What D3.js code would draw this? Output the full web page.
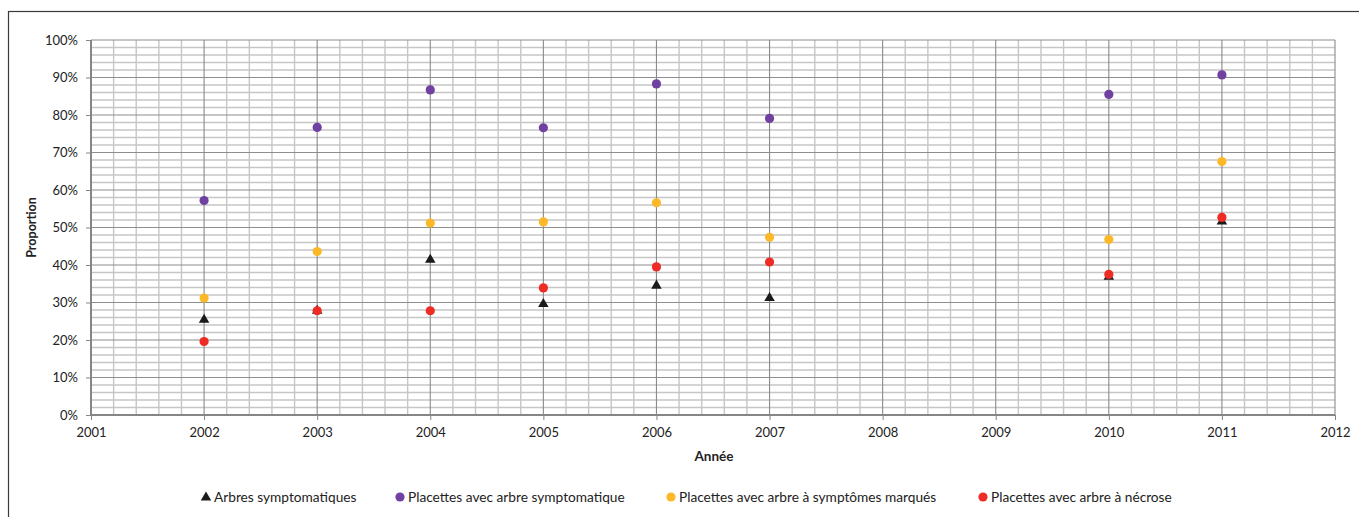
<!DOCTYPE html>
<html>
<head>
<meta charset="utf-8">
<script src="https://cdn.jsdelivr.net/npm/d3@7"></script>
<style>
  html, body { margin: 0; padding: 0; background: #fff; }
  svg { display: block; font-family: Lato, "Open Sans", sans-serif; }
</style>
</head>
<body>
<svg id="chart" width="1359" height="517"></svg>
<script>
// Years surveyed
const years = [2002, 2003, 2004, 2005, 2006, 2007, 2010, 2011];

// Proportions (%) per series
const arbresSymptomatiques = [25.6, 28.0, 41.6, 29.8, 34.7, 31.4, 37.1, 51.8];
const placettesSymptomatique = [57.2, 76.7, 86.7, 76.6, 88.3, 79.1, 85.5, 90.7];
const placettesSymptomesMarques = [31.2, 43.6, 51.2, 51.5, 56.6, 47.4, 46.8, 67.6];
const placettesNecrose = [19.6, 27.8, 27.8, 33.9, 39.5, 40.8, 37.5, 52.7];

const seriesNames = [
  "Arbres symptomatiques",
  "Placettes avec arbre symptomatique",
  "Placettes avec arbre à symptômes marqués",
  "Placettes avec arbre à nécrose"
];
const seriesColors = ["#1a1a1a", "#7041a0", "#fdb827", "#ee2b25"];
const seriesShapes = ["triangle", "circle", "circle", "circle"];
const seriesValues = [arbresSymptomatiques, placettesSymptomatique, placettesSymptomesMarques, placettesNecrose];

const xTicks = d3.range(2001, 2013);
const yTicks = d3.range(0, 101, 10);

const svg = d3.select("#chart");
const plot = { left: 91, top: 40, right: 1335, bottom: 415 };

const x = d3.scaleLinear().domain([2001, 2012]).range([plot.left, plot.right]);
const y = d3.scaleLinear().domain([0, 100]).range([plot.bottom, plot.top]);

// Outer chart frame
svg.append("rect")
  .attr("x", 8.5).attr("y", 11.5)
  .attr("width", 1400).attr("height", 600)
  .attr("fill", "none").attr("stroke", "#3a3a3a").attr("stroke-width", 1.2);

const grid = svg.append("g");

// Minor gridlines (every 0.2 year, every 2 %)
const xMinor = d3.range(0, 56).map(i => 2001 + i * 0.2).filter(v => Math.abs(v - Math.round(v)) > 1e-6);
const yMinor = d3.range(0, 51).map(i => i * 2).filter(v => v % 10 !== 0);

grid.selectAll(".xminor").data(xMinor).join("line")
  .attr("x1", d => x(d)).attr("x2", d => x(d))
  .attr("y1", plot.top).attr("y2", plot.bottom)
  .attr("stroke", "#c6c6c6").attr("stroke-width", 1.4);

grid.selectAll(".yminor").data(yMinor).join("line")
  .attr("x1", plot.left).attr("x2", plot.right)
  .attr("y1", d => y(d)).attr("y2", d => y(d))
  .attr("stroke", "#c6c6c6").attr("stroke-width", 1.4);

// Major gridlines
grid.selectAll(".ymajor").data(yTicks.filter(v => v > 0)).join("line")
  .attr("x1", plot.left).attr("x2", plot.right)
  .attr("y1", d => y(d)).attr("y2", d => y(d))
  .attr("stroke", "#8e8e8e").attr("stroke-width", 1.1);

grid.selectAll(".xmajor").data(xTicks.filter(v => v > 2001)).join("line")
  .attr("x1", d => x(d)).attr("x2", d => x(d))
  .attr("y1", plot.top).attr("y2", plot.bottom)
  .attr("stroke", "#8a8a8a").attr("stroke-width", 1.1);

// Axes
const yAxis = d3.axisLeft(y).tickValues(yTicks).tickFormat(d => d + "%").tickSize(5).tickPadding(8);
const xAxis = d3.axisBottom(x).tickValues(xTicks).tickFormat(d3.format("d")).tickSize(5).tickPadding(8);

const gy = svg.append("g").attr("transform", `translate(${plot.left},0)`).call(yAxis);
const gx = svg.append("g").attr("transform", `translate(0,${plot.bottom})`).call(xAxis);

[gy, gx].forEach(g => {
  g.select(".domain").attr("stroke", "#868686").attr("stroke-width", 2);
  g.selectAll(".tick line").attr("stroke", "#868686").attr("stroke-width", 1);
  g.selectAll(".tick text").attr("fill", "#222").style("font-size", "13px").style("font-family", "Lato, sans-serif");
});
gy.select(".domain").attr("d", `M0,${plot.top}V${plot.bottom}`);
gx.select(".domain").attr("d", `M${plot.left},0H${plot.right}`);

// Axis titles
svg.append("text")
  .attr("transform", `translate(36,${(plot.top + plot.bottom) / 2}) rotate(-90)`)
  .attr("text-anchor", "middle")
  .style("font-size", "12.5px").style("font-weight", "bold").attr("fill", "#222")
  .text("Proportion");

svg.append("text")
  .attr("x", 714).attr("y", 461)
  .attr("text-anchor", "middle")
  .style("font-size", "13.5px").style("font-weight", "bold").attr("fill", "#222")
  .text("Année");

// Markers
const triangle = d3.symbol().type(d3.symbolTriangle).size(48);

seriesValues.forEach((vals, si) => {
  const g = svg.append("g");
  const pts = years.map((yr, i) => ({ yr, v: vals[i] }));
  if (seriesShapes[si] === "triangle") {
    g.selectAll("path").data(pts).join("path")
      .attr("d", triangle)
      .attr("transform", d => `translate(${x(d.yr)},${y(d.v) + 0.8})`)
      .attr("fill", seriesColors[si]);
  } else {
    g.selectAll("circle").data(pts).join("circle")
      .attr("cx", d => x(d.yr)).attr("cy", d => y(d.v))
      .attr("r", 4.6)
      .attr("fill", seriesColors[si]);
  }
});

// Legend
const legendX = [206, 400, 671, 983];
const legendY = 497;
const legend = svg.append("g");
seriesNames.forEach((name, si) => {
  const lg = legend.append("g").attr("transform", `translate(${legendX[si]},${legendY})`);
  if (seriesShapes[si] === "triangle") {
    lg.append("path").attr("d", triangle).attr("transform", "translate(0,0.5)").attr("fill", seriesColors[si]);
  } else {
    lg.append("circle").attr("r", 4.6).attr("fill", seriesColors[si]);
  }
  lg.append("text")
    .attr("x", 8).attr("dy", "0.35em")
    .style("font-size", "13.7px").attr("fill", "#222")
    .text(name);
});
</script>
</body>
</html>
